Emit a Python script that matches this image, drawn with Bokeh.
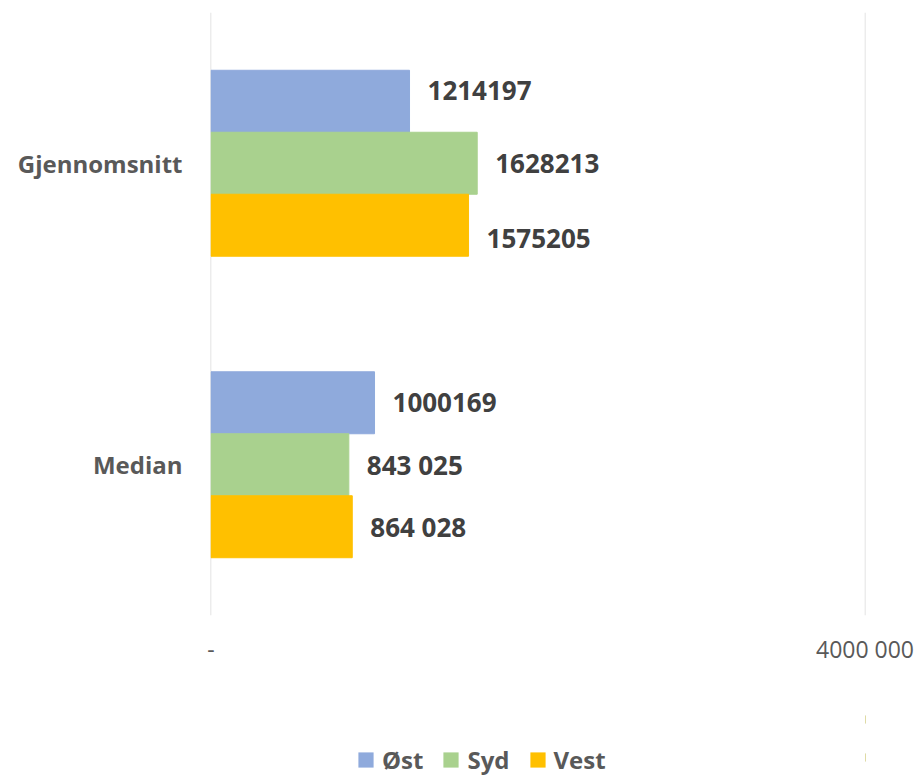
from bokeh.plotting import figure
from bokeh.models import (FactorRange, Range1d, FixedTicker, Legend, LegendItem,
                          ColumnDataSource)
from bokeh.layouts import column
from bokeh.transform import dodge
from bokeh.core.properties import value
from bokeh.embed import file_html
from bokeh.resources import INLINE

# ---- data ----
categories = ["Gjennomsnitt", "Median"]
series_names = ["Øst", "Syd", "Vest"]
ost = [1214197, 1000169]
syd = [1628213, 843025]
vest = [1575205, 864028]
ost_labels = ["1214197", "1000169"]
syd_labels = ["1628213", "843 025"]
vest_labels = ["1575205", "864 028"]
x_ticks = [0, 4000000]
x_tick_labels = ["-", "4000 000"]

# ---- style ----
colors = ["#8FAADC", "#A9D18E", "#FFC000"]
FONT = "Open Sans"
# screen-pixel vertical nudges of the data labels (as placed in the original)
label_dy = {"ost": [-11, 0], "syd": [0, 0], "vest": [13, 0]}

src = ColumnDataSource(dict(cat=categories, ost=ost, syd=syd, vest=vest,
                            ost_l=ost_labels, syd_l=syd_labels, vest_l=vest_labels,
                            ost_dy=label_dy["ost"], syd_dy=label_dy["syd"],
                            vest_dy=label_dy["vest"]))

pad = 3000
p = figure(y_range=FactorRange(factors=["Median", "Gjennomsnitt"]),
           x_range=Range1d(x_ticks[0] - pad, x_ticks[-1] + pad),
           width=916, height=700,
           min_border_left=210, min_border_right=51,
           min_border_top=12, min_border_bottom=85,
           output_backend="svg", toolbar_location=None)

bh = 0.2056
offsets = [bh, 0.0, -bh]
for key, off, col in zip(["ost", "syd", "vest"], offsets, colors):
    p.hbar(y=dodge("cat", off, range=p.y_range), right=key, left=0,
           height=bh, source=src, fill_color=col, line_color=col)
    p.text(x=key, y=dodge("cat", off, range=p.y_range), text=key + "_l",
           source=src, x_offset=18, y_offset=key + "_dy",
           text_baseline="middle", text_align="left",
           text_font=value(FONT), text_font_size="26px", text_font_style="bold",
           text_color="#404040")

# axes
p.xaxis.ticker = FixedTicker(ticks=x_ticks)
p.xaxis.major_label_overrides = {t: l for t, l in zip(x_ticks, x_tick_labels)}
p.xaxis.axis_line_color = None
p.xaxis.major_tick_line_color = None
p.xaxis.major_tick_out = 0
p.xaxis.major_tick_in = 0
p.xaxis.minor_tick_line_color = None
p.xaxis.major_label_text_font = FONT
p.xaxis.major_label_text_font_size = "23px"
p.xaxis.major_label_text_color = "#595959"
p.xaxis.major_label_standoff = 17

p.yaxis.axis_line_color = None
p.yaxis.major_tick_line_color = None
p.yaxis.major_tick_out = 0
p.yaxis.major_tick_in = 0
p.yaxis.minor_tick_line_color = None
p.yaxis.major_label_text_font = FONT
p.yaxis.major_label_text_font_size = "24px"
p.yaxis.major_label_text_font_style = "bold"
p.yaxis.major_label_text_color = "#595959"
p.yaxis.major_label_standoff = 28

p.xgrid.ticker = FixedTicker(ticks=x_ticks)
p.xgrid.grid_line_color = "#D9D9D9"
p.xgrid.grid_line_width = 1.5
p.ygrid.grid_line_color = None
p.outline_line_color = None

# ---- legend strip (separate figure below the chart) ----
# the swatch renderers carry the real series but lie outside this strip's view
lg = figure(width=916, height=76, min_border=0,
            x_range=Range1d(-2, -1), y_range=FactorRange(factors=categories),
            x_axis_type=None, y_axis_type=None,
            output_backend="svg", toolbar_location=None)
lg.outline_line_color = None
lg.grid.grid_line_color = None
swatches = [lg.hbar(y="cat", right=key, left=0, height=bh, source=src,
                    fill_color=c, line_color=None)
            for key, c in zip(["ost", "syd", "vest"], colors)]

legend = Legend(items=[LegendItem(label=n, renderers=[r]) for n, r in zip(series_names, swatches)],
                orientation="horizontal", location=(146, 0),
                padding=0, margin=0, spacing=18,
                glyph_width=19, glyph_height=19, label_standoff=7,
                label_text_font=FONT, label_text_font_size="24px",
                label_text_font_style="bold", label_text_color="#595959",
                border_line_color=None, background_fill_alpha=0)
lg.add_layout(legend, "center")

open("out.html", "w").write(file_html(column(p, lg, spacing=0), INLINE))
